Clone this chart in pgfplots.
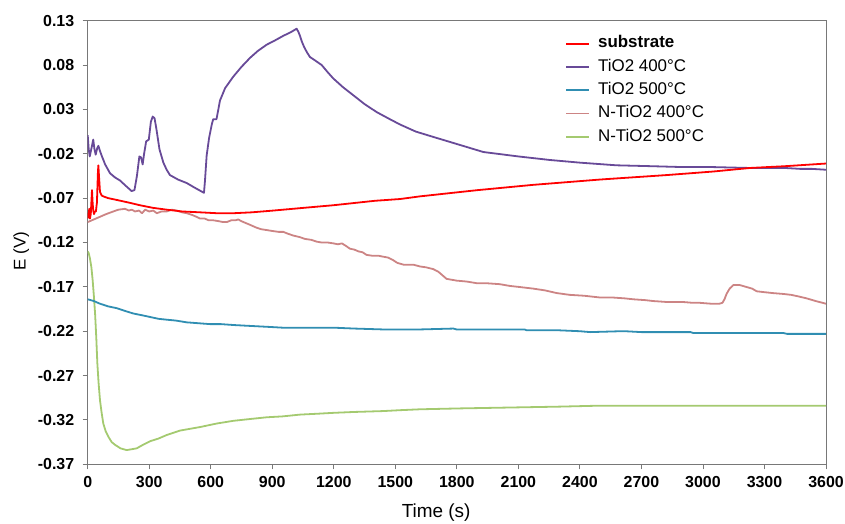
\documentclass[border=0pt]{standalone}
\usepackage{fontspec}
\setmainfont{Liberation Sans}
\usepackage{pgfplots}
\pgfplotsset{compat=1.18}

\definecolor{cSub}{RGB}{255,0,0}
\definecolor{cT400}{RGB}{104,74,152}
\definecolor{cT500}{RGB}{48,142,178}
\definecolor{cN400}{RGB}{204,132,132}
\definecolor{cN500}{RGB}{164,202,112}
\definecolor{frame}{RGB}{120,120,120}

\begin{document}
\begin{tikzpicture}
\useasboundingbox (-87.7bp,-59.7bp) rectangle (757.3bp,464.3bp);
\begin{axis}[
  scale only axis,
  width=738.3bp, height=443.6bp,
  xmin=0, xmax=3600, ymin=-0.37, ymax=0.13,
  xtick={0,300,...,3600},
  ytick={-0.37,-0.32,-0.27,-0.22,-0.17,-0.12,-0.07,-0.02,0.03,0.08,0.13},
  yticklabels={-0.37,-0.32,-0.27,-0.22,-0.17,-0.12,-0.07,-0.02,0.03,0.08,0.13},
  /pgf/number format/1000 sep={},
  /pgf/number format/assume math mode=true,
  tick align=outside, xtick pos=lower, ytick pos=left,
  major tick length=5bp,
  axis line style={frame, line width=0.9bp},
  every tick/.style={frame, line width=0.9bp},
  tick label style={font=\bfseries\fontsize{16}{16}\selectfont},
  yticklabel style={xshift=-5bp},
  xticklabel style={yshift=-4bp},
  xlabel={Time (s)},
  ylabel={E (V)},
  xlabel style={font=\fontsize{19}{19}\selectfont, at={(axis description cs:0.472,-0.11)}, anchor=center},
  ylabel style={font=\fontsize{17}{17}\selectfont, at={(axis description cs:-0.09,0.481)}, anchor=center},
  legend cell align=left,
  reverse legend,
  legend image code/.code={\draw[#1, line width=1.9bp] (0bp,0bp) -- (23bp,0bp);},
  legend style={at={(axis description cs:0.6465,0.975)}, anchor=north west,
    draw=none, fill=none, inner sep=0pt, column sep=8bp, row sep=0pt,
    font=\fontsize{17}{17}\selectfont,
    nodes={inner xsep=0pt, inner ysep=3bp, text height=13bp, text depth=4.3bp}},
  every axis plot/.append style={line width=1.8bp, line join=round},
]
% N-TiO2 annealed at 500 C
\addplot[cN500] coordinates {
(0,-0.130)(5,-0.132)(11,-0.138)(18,-0.148)(24,-0.162)(30,-0.180)(36,-0.200)
(42,-0.228)(47,-0.256)(53,-0.278)(60,-0.298)(68,-0.312)(76,-0.324)(88,-0.333)
(101,-0.339)(117,-0.345)(133,-0.348)(160,-0.352)(190,-0.354)(215,-0.353)
(239,-0.352)(270,-0.348)(304,-0.344)(345,-0.341)(385,-0.337)(450,-0.332)
(548,-0.328)(630,-0.324)(710,-0.321)(790,-0.319)(873,-0.317)(950,-0.316)
(1035,-0.314)(1120,-0.313)(1198,-0.312)(1300,-0.311)(1441,-0.310)(1523,-0.309)
(1620,-0.308)(1815,-0.307)(2059,-0.306)(2300,-0.305)(2482,-0.304)(3600,-0.304)
};
\addlegendentry{N-TiO2 500°C}
% N-TiO2 annealed at 400 C
\addplot[cN400] coordinates {
(0,-0.097)(30,-0.094)(60,-0.091)(90,-0.088)(125,-0.085)(150,-0.083)(182,-0.082)
(200,-0.084)(215,-0.083)(231,-0.085)(250,-0.084)(265,-0.087)(280,-0.083)
(300,-0.085)(320,-0.084)(337,-0.087)(360,-0.085)(385,-0.085)(410,-0.083)
(434,-0.084)(460,-0.086)(483,-0.087)(510,-0.089)(530,-0.091)(548,-0.093)
(570,-0.093)(590,-0.095)(613,-0.095)(640,-0.096)(660,-0.097)(678,-0.097)
(700,-0.095)(720,-0.095)(734,-0.094)(750,-0.096)(770,-0.098)(791,-0.100)
(820,-0.103)(845,-0.105)(873,-0.106)(900,-0.107)(930,-0.108)(954,-0.108)
(975,-0.110)(1000,-0.112)(1035,-0.114)(1060,-0.116)(1090,-0.117)(1116,-0.119)
(1140,-0.120)(1170,-0.120)(1198,-0.121)(1220,-0.122)(1240,-0.121)(1260,-0.124)
(1279,-0.127)(1300,-0.128)(1320,-0.130)(1340,-0.131)(1360,-0.134)(1390,-0.135)
(1420,-0.135)(1441,-0.136)(1465,-0.137)(1490,-0.140)(1510,-0.143)(1540,-0.145)
(1588,-0.145)(1620,-0.147)(1650,-0.148)(1685,-0.150)(1710,-0.153)(1735,-0.158)
(1750,-0.161)(1800,-0.163)(1848,-0.164)(1900,-0.166)(1950,-0.166)(2010,-0.167)
(2060,-0.169)(2100,-0.170)(2173,-0.172)(2230,-0.174)(2287,-0.177)(2350,-0.179)
(2420,-0.180)(2498,-0.182)(2560,-0.182)(2620,-0.183)(2660,-0.184)(2720,-0.185)
(2758,-0.186)(2820,-0.187)(2900,-0.187)(2950,-0.188)(2985,-0.188)(3040,-0.189)
(3080,-0.189)(3095,-0.188)(3105,-0.184)(3115,-0.178)(3130,-0.172)(3148,-0.168)
(3180,-0.168)(3210,-0.170)(3240,-0.172)(3262,-0.175)(3300,-0.176)(3340,-0.177)
(3392,-0.178)(3430,-0.179)(3470,-0.181)(3506,-0.183)(3550,-0.186)(3600,-0.189)
};
\addlegendentry{N-TiO2 400°C}
% TiO2 annealed at 500 C
\addplot[cT500] coordinates {
(0,-0.184)(30,-0.186)(60,-0.189)(100,-0.192)(141,-0.194)(180,-0.197)(222,-0.200)
(265,-0.202)(305,-0.204)(345,-0.206)(385,-0.207)(430,-0.208)(483,-0.210)
(540,-0.211)(597,-0.212)(650,-0.212)(710,-0.213)(790,-0.214)(873,-0.215)
(950,-0.216)(1035,-0.216)(1120,-0.216)(1198,-0.216)(1300,-0.217)(1441,-0.218)
(1520,-0.218)(1620,-0.218)(1783,-0.217)(1799,-0.218)(1900,-0.218)(2000,-0.218)
(2130,-0.218)(2141,-0.219)(2300,-0.219)(2400,-0.220)(2450,-0.221)(2600,-0.220)
(2620,-0.220)(2700,-0.221)(2940,-0.221)(2953,-0.222)(3100,-0.222)(3392,-0.222)
(3410,-0.223)(3600,-0.223)
};
\addlegendentry{TiO2 500°C}
% TiO2 annealed at 400 C
\addplot[cT400] coordinates {
(0,0.001)(5,-0.015)(10,-0.023)(20,-0.012)(27,-0.004)(33,-0.015)(39,-0.021)
(46,-0.014)(52,-0.011)(60,-0.017)(68,-0.022)(85,-0.032)(109,-0.042)(135,-0.047)
(157,-0.050)(185,-0.056)(214,-0.062)(228,-0.061)(240,-0.045)(252,-0.023)
(260,-0.024)(268,-0.032)(275,-0.020)(285,-0.006)(292,-0.005)(298,-0.004)
(308,0.016)(317,0.022)(326,0.020)(335,0.008)(350,-0.015)(369,-0.030)(385,-0.038)
(401,-0.044)(440,-0.049)(483,-0.053)(520,-0.058)(567,-0.064)(572,-0.050)
(580,-0.022)(592,-0.002)(605,0.013)(612,0.019)(620,0.019)(628,0.019)(637,0.030)
(645,0.040)(670,0.054)(710,0.067)(750,0.078)(791,0.088)(830,0.096)(873,0.103)
(915,0.108)(954,0.113)(990,0.117)(1019,0.121)(1028,0.117)(1035,0.113)
(1045,0.106)(1056,0.100)(1070,0.094)(1084,0.089)(1110,0.085)(1141,0.080)
(1170,0.072)(1197,0.065)(1245,0.055)(1295,0.046)(1350,0.036)(1409,0.027)
(1465,0.020)(1523,0.013)(1600,0.005)(1685,-0.001)(1800,-0.009)(1929,-0.018)
(2100,-0.023)(2254,-0.027)(2400,-0.030)(2579,-0.033)(2750,-0.034)(2904,-0.035)
(3050,-0.035)(3229,-0.036)(3400,-0.036)(3473,-0.037)(3530,-0.037)(3600,-0.038)
};
\addlegendentry{TiO2 400°C}
% bare substrate
\addplot[cSub] coordinates {
(0,-0.093)(4,-0.088)(8,-0.082)(11,-0.093)(15,-0.088)(21,-0.061)(24,-0.075)
(27,-0.084)(31,-0.088)(35,-0.085)(40,-0.085)(45,-0.075)(50,-0.040)(52,-0.033)
(55,-0.045)(60,-0.063)(68,-0.067)(76,-0.068)(100,-0.070)(141,-0.072)
(200,-0.075)(255,-0.078)(320,-0.081)(385,-0.083)(460,-0.085)(548,-0.086)
(630,-0.087)(710,-0.087)(800,-0.086)(905,-0.084)(1050,-0.081)(1198,-0.078)
(1400,-0.073)(1523,-0.071)(1620,-0.068)(1900,-0.061)(2173,-0.055)(2500,-0.049)
(2823,-0.044)(3050,-0.040)(3229,-0.036)(3400,-0.034)(3600,-0.031)
};
\addlegendentry{\bfseries substrate}
\end{axis}
\end{tikzpicture}
\end{document}
